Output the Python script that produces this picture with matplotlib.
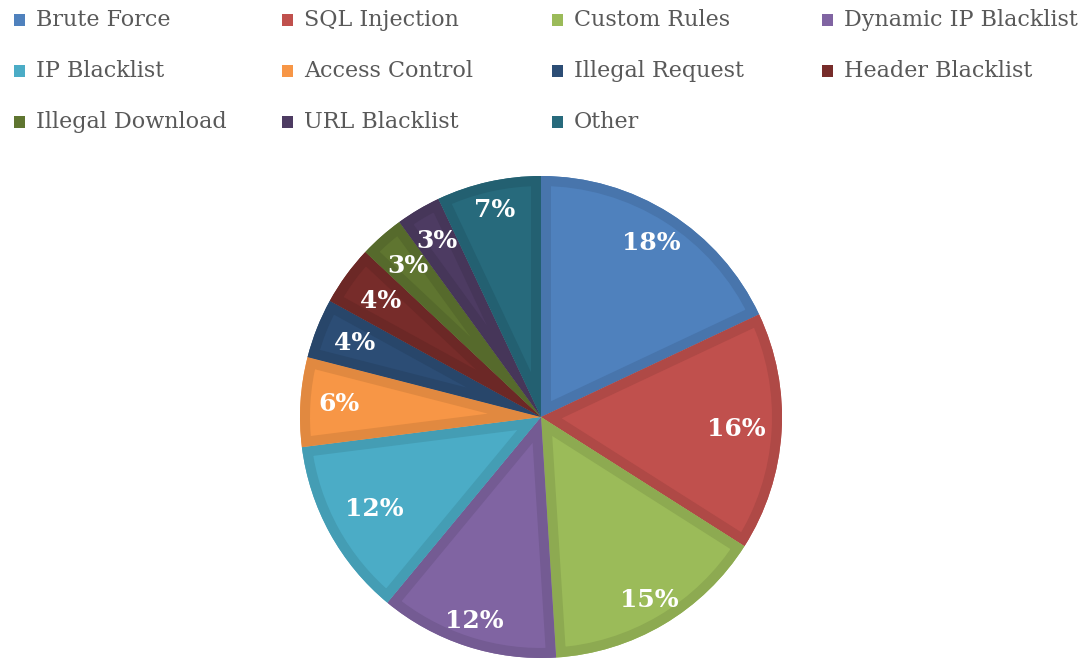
import matplotlib
matplotlib.use("Agg")
import numpy as np
import matplotlib.pyplot as plt
from matplotlib.patches import Rectangle, Wedge
from matplotlib.colors import to_rgb

categories = ["Brute Force", "SQL Injection", "Custom Rules", "Dynamic IP Blacklist",
              "IP Blacklist", "Access Control", "Illegal Request", "Header Blacklist",
              "Illegal Download", "URL Blacklist", "Other"]
values = [18, 16, 15, 12, 12, 6, 4, 4, 3, 3, 7]
colors = ["#4F81BD", "#C0504D", "#9BBB59", "#8064A2", "#4BACC6", "#F79646",
          "#2C4D75", "#772C2A", "#5F7530", "#4D3B62", "#276A7C"]
# radial placement of the percentage labels (fraction of radius)
label_dist = [0.855, 0.81, 0.88, 0.89, 0.79, 0.84, 0.83, 0.82, 0.835, 0.85, 0.88]

W, H = 1085, 660
fig = plt.figure(figsize=(W / 100, H / 100), dpi=100)
fig.patch.set_facecolor("white")

cx, cy, r = 541, 417, 241
ax = fig.add_axes([(cx - r) / W, (H - cy - r) / H, 2 * r / W, 2 * r / H])
wedges, texts, autotexts = ax.pie(
    values, colors=colors, startangle=90, counterclock=False,
    autopct=lambda p: f"{p:.0f}%", pctdistance=0.84, radius=1,
    wedgeprops=dict(linewidth=0),
    textprops=dict(color="white", fontsize=18, fontweight="bold", family="DejaVu Serif"))
ax.set_xlim(-1, 1)
ax.set_ylim(-1, 1)
ax.set_aspect("equal")
ax.axis("off")

band_px = 10
for w, c, t, d in zip(wedges, colors, autotexts, label_dist):
    dark = tuple(v * 0.91 for v in to_rgb(c))
    ov = Wedge(w.center, w.r, w.theta1, w.theta2, facecolor="none", edgecolor=dark,
               linewidth=2 * band_px * 72 / 100, joinstyle="miter", zorder=w.get_zorder() + 0.5)
    ax.add_patch(ov)
    ov.set_clip_path(w)
    ov.set_clip_on(True)
    mid = np.deg2rad((w.theta1 + w.theta2) / 2)
    t.set_position((d * np.cos(mid), d * np.sin(mid)))
    t.set_zorder(10)

# legend laid out in fixed-width columns
col_x = [14, 282, 552, 822]
row_y = [20, 71, 122]
msize = 11
for i, (name, c) in enumerate(zip(categories, colors)):
    col, row = i % 4, i // 4
    x0 = col_x[col]
    y0 = row_y[row]
    fig.patches.append(Rectangle(((x0) / W, (H - y0 - msize / 2) / H), msize / W, msize / H,
                                 transform=fig.transFigure, facecolor=c, edgecolor="none"))
    fig.text((x0 + 22) / W, (H - y0) / H, name, ha="left", va="center",
             fontsize=16, color="#595959", family="DejaVu Serif")

fig.savefig("out.png", dpi=100)
